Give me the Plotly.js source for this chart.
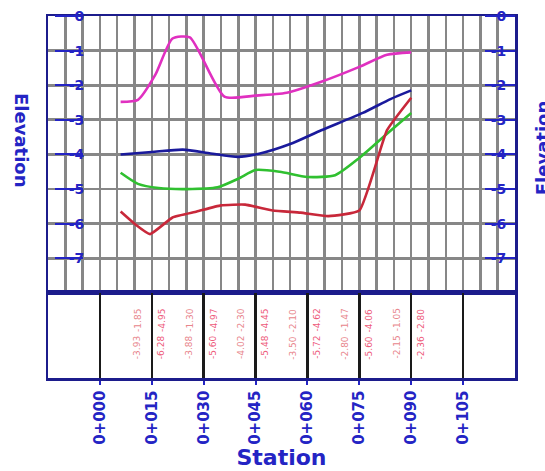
<!DOCTYPE html>
<html>
<head>
<meta charset="utf-8">
<script src="https://cdn.plot.ly/plotly-3.0.1.min.js"></script>
<style>html,body{margin:0;padding:0;background:#fff;}#chart{width:545px;height:471px;}</style>
</head>
<body>
<div id="chart"></div>
<script>
// ---- data ----
const pinkX  = [6, 11, 16, 21, 26, 36, 45, 54, 64, 75, 83, 90];
const pinkY  = [-2.48, -2.42, -1.70, -0.65, -0.62, -2.33, -2.30, -2.22, -1.90, -1.47, -1.12, -1.05];
const blueX  = [6, 15, 24, 32, 40, 46, 55, 64, 76, 84, 90];
const blueY  = [-4.00, -3.93, -3.86, -3.97, -4.07, -3.98, -3.70, -3.30, -2.80, -2.40, -2.15];
const greenX = [6, 11, 17, 25, 34, 40, 45, 52, 60, 68, 75, 83, 90];
const greenY = [-4.53, -4.85, -4.97, -5.00, -4.95, -4.70, -4.45, -4.50, -4.65, -4.60, -4.10, -3.40, -2.80];
const redX   = [6, 10, 14.5, 21, 28, 35, 42, 50, 58, 66, 75, 83, 90];
const redY   = [-5.65, -6.00, -6.30, -5.82, -5.65, -5.47, -5.45, -5.62, -5.68, -5.78, -5.62, -3.30, -2.36];

const stations      = [0, 15, 30, 45, 60, 75, 90, 105];
const stationLabels = ['0+000', '0+015', '0+030', '0+045', '0+060', '0+075', '0+090', '0+105'];
const yTicks        = [0, -1, -2, -3, -4, -5, -6, -7];
const yTickText     = ['0', '-1', '-2', '-3', '-4', '-5', '-6', '-7'];

const labelStations = [15, 30, 45, 60, 75, 90];
const pinkAt  = [-1.85, -1.30, -2.30, -2.10, -1.47, -1.05];
const blueAt  = [-3.93, -3.88, -4.02, -3.50, -2.80, -2.15];
const greenAt = [-4.95, -4.97, -4.45, -4.62, -4.06, -2.80];
const redAt   = [-6.28, -5.60, -5.48, -5.72, -5.60, -2.36];

// ---- styles ----
const NAVY = '#1c1c8c', BLUE = '#2424c4', GRID = '#878787';

const line = (x, y, color, sm) => ({
  type: 'scatter', mode: 'lines', x: x, y: y, xaxis: 'x', yaxis: 'y',
  line: {color: color, width: 2.6, shape: 'spline', smoothing: sm},
  hoverinfo: 'skip', showlegend: false
});

const traces = [
  line(pinkX, pinkY, '#e030c0', 0.6),
  line(blueX, blueY, '#1a1a9c', 0.6),
  line(greenX, greenY, '#30c030', 0.6),
  line(redX, redY, '#c8283a', 0.4),
  {type: 'scatter', mode: 'lines', x: [null], y: [null], xaxis: 'x', yaxis: 'y3', showlegend: false, hoverinfo: 'skip'},
  {type: 'scatter', mode: 'lines', x: [null], y: [null], xaxis: 'x', yaxis: 'y4', showlegend: false, hoverinfo: 'skip'},
  {type: 'scatter', mode: 'lines', x: [null], y: [null], xaxis: 'x2', yaxis: 'y2', showlegend: false, hoverinfo: 'skip'}
];

const fmt = v => v.toFixed(2);
const annotations = [];
labelStations.forEach((s, i) => {
  const cols = [
    {shift: -14, top: pinkAt[i], bottom: blueAt[i], color: '#e8868c'},
    {shift: 10, top: greenAt[i], bottom: redAt[i], color: '#ee5a7a'}
  ];
  cols.forEach(c => {
    [[c.top, 0.68], [c.bottom, 0.36]].forEach(([v, yy]) => {
      annotations.push({
        x: s, y: yy, xref: 'x2', yref: 'y2', text: fmt(v), showarrow: false,
        textangle: -90, xshift: c.shift, font: {family: 'DejaVu Sans', size: 9, color: c.color}
      });
    });
  });
});
annotations.push({
  xref: 'paper', yref: 'paper', x: -0.058, y: 0.655, text: 'Elevation', showarrow: false,
  textangle: 90, xanchor: 'center', yanchor: 'middle',
  font: {family: 'DejaVu Sans', size: 18, color: BLUE, weight: 'bold'}
});
annotations.push({
  xref: 'paper', yref: 'paper', x: 1.058, y: 0.635, text: 'Elevation', showarrow: false,
  textangle: -90, xanchor: 'center', yanchor: 'middle',
  font: {family: 'DejaVu Sans', size: 18, color: BLUE, weight: 'bold'}
});

const tickFont = {family: 'DejaVu Sans', size: 14, color: BLUE, weight: 'bold'};

const layout = {
  width: 545, height: 471,
  margin: {l: 48, r: 30, t: 16, b: 93},
  paper_bgcolor: '#ffffff', plot_bgcolor: '#ffffff',
  showlegend: false,
  xaxis: {
    range: [-15, 120], anchor: 'y', tick0: 0, dtick: 5,
    showgrid: true, gridcolor: GRID, gridwidth: 2.5,
    showticklabels: false, ticks: '', zeroline: false,
    showline: true, mirror: true, linecolor: NAVY, linewidth: 2.5
  },
  yaxis: {
    range: [-8, 0], domain: [0.235, 1], anchor: 'x', dtick: 1,
    showgrid: true, gridcolor: GRID, gridwidth: 2.8,
    showticklabels: false, ticks: '', zeroline: false,
    showline: true, mirror: true, linecolor: NAVY, linewidth: 2.5
  },
  yaxis3: {
    overlaying: 'y', anchor: 'free', position: 0.075, side: 'left',
    range: [-8, 0], tickvals: yTicks, ticktext: yTickText,
    ticks: 'outside', ticklen: 28, tickwidth: 2, tickcolor: BLUE,
    ticklabelstandoff: -32, tickfont: tickFont,
    showgrid: false, zeroline: false, showline: false
  },
  yaxis4: {
    overlaying: 'y', anchor: 'free', position: 1, side: 'left',
    range: [-8, 0], tickvals: yTicks, ticktext: yTickText,
    ticks: 'outside', ticklen: 30, tickwidth: 2, tickcolor: BLUE,
    ticklabelstandoff: -24, tickfont: tickFont,
    showgrid: false, zeroline: false, showline: false
  },
  xaxis2: {
    range: [-15, 120], anchor: 'y2', matches: 'x',
    tickvals: stations, ticktext: stationLabels, tickangle: -90,
    ticks: 'outside', ticklen: 4, tickwidth: 2, tickcolor: BLUE,
    tickfont: {family: 'DejaVu Sans', size: 15, color: BLUE, weight: 'bold'},
    showgrid: true, gridcolor: '#1a1a1a', gridwidth: 2.5, zeroline: false,
    showline: true, mirror: true, linecolor: NAVY, linewidth: 2.5,
    title: {text: 'Station', standoff: 4, font: {family: 'DejaVu Sans', size: 22, color: BLUE, weight: 'bold'}}
  },
  yaxis2: {
    range: [0, 1], domain: [0, 0.235], anchor: 'x2',
    showgrid: false, showticklabels: false, ticks: '', zeroline: false,
    showline: true, mirror: true, linecolor: NAVY, linewidth: 2.5
  },
  annotations: annotations
};

Plotly.newPlot('chart', traces, layout, {staticPlot: true, displayModeBar: false});
</script>
</body>
</html>
